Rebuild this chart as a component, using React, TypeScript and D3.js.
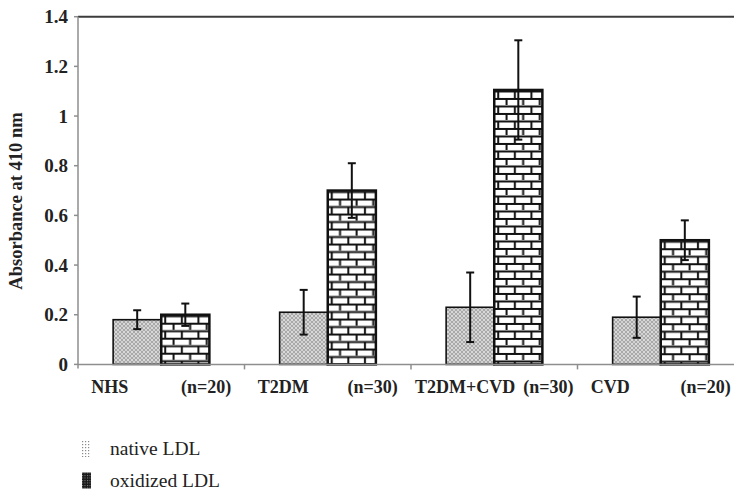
import React from 'react';
import * as d3 from 'd3';

// chart values
const categories = ['NHS', 'T2DM', 'T2DM+CVD', 'CVD'];
const groupSizes = ['(n=20)', '(n=30)', '(n=30)', '(n=20)'];
const nativeMeans = [0.18, 0.21, 0.23, 0.19];
const nativeErrors = [0.038, 0.09, 0.14, 0.083];
const oxidizedMeans = [0.2, 0.7, 1.105, 0.5];
const oxidizedErrors = [0.045, 0.11, 0.2, 0.08];
const yTicks = [0, 0.2, 0.4, 0.6, 0.8, 1, 1.2, 1.4];
const seriesNames = ['native LDL', 'oxidized LDL'];

const W = 734;
const H = 497;
const FONT = '"Liberation Serif", "DejaVu Serif", serif';

const measure = (txt: string, size: number) => {
  const ctx = document.createElement('canvas').getContext('2d');
  if (!ctx) return txt.length * size * 0.5;
  ctx.font = `bold ${size}px "Liberation Serif"`;
  return ctx.measureText(txt).width;
};

const App = () => {
  const left = 78;
  const top = 16.7;
  const bottom = 364.4;

  const y = d3.scaleLinear().domain([0, 1.4]).range([bottom, top]);
  const x = d3.scaleBand().domain(categories).range([left, 744]).padding(0);
  const xs = d3
    .scaleBand()
    .domain(['native', 'oxidized'])
    .range([0, x.bandwidth()])
    .paddingInner(0)
    .paddingOuter(0.73);
  const bw = xs.bandwidth();

  const bars = categories.flatMap((c, i) => [
    { key: 'native', cat: c, i, v: nativeMeans[i], e: nativeErrors[i] },
    { key: 'oxidized', cat: c, i, v: oxidizedMeans[i], e: oxidizedErrors[i] },
  ]);

  return (
    <svg
      width={W}
      height={H}
      style={{ position: 'absolute', left: 0, top: 0, background: '#fff' }}
      fontFamily={FONT}
    >
      <defs>
        <pattern id="cross" patternUnits="userSpaceOnUse" width={4} height={4}>
          <rect width={4} height={4} fill="#a9a9a9" />
          <path d="M0,1 L1,0 M3,0 L4,1 M0,3 L1,4 M3,4 L4,3" stroke="#e6e6e6" strokeWidth={0.8} />
          <circle cx={2} cy={2} r={0.9} fill="#e6e6e6" />
        </pattern>
        <pattern id="dots-light" patternUnits="userSpaceOnUse" width={3} height={3}>
          <rect width={3} height={3} fill="#fff" />
          <rect x={0} y={0} width={1.2} height={1.2} fill="#8a8a8a" />
        </pattern>
        <pattern id="dots-dark" patternUnits="userSpaceOnUse" width={2.5} height={2.5}>
          <rect width={2.5} height={2.5} fill="#1a1a1a" />
          <rect x={0} y={0} width={1} height={1} fill="#8c8c8c" />
        </pattern>
        {bars
          .filter(b => b.key === 'oxidized')
          .map(b => {
            const bx = (x(b.cat) ?? 0) + (xs('oxidized') ?? 0);
            return (
              <pattern
                key={b.cat}
                id={`brick-${b.i}`}
                patternUnits="userSpaceOnUse"
                x={bx}
                y={y(b.v)}
                width={16.6}
                height={15}
              >
                <rect width={16.6} height={15} fill="#fff" />
                <line x1={0} x2={16.6} y1={1.5} y2={1.5} stroke="#111" strokeWidth={2} />
                <line x1={0} x2={16.6} y1={9} y2={9} stroke="#111" strokeWidth={2} />
                <line x1={4} x2={4} y1={1.5} y2={9} stroke="#111" strokeWidth={2} />
                <line x1={12.3} x2={12.3} y1={9} y2={16.5} stroke="#111" strokeWidth={2} />
              </pattern>
            );
          })}
      </defs>

      {/* top frame line */}
      <line x1={left} x2={W} y1={top} y2={top} stroke="#3c3c3c" strokeWidth={2} />

      {/* y axis */}
      <line x1={left} x2={left} y1={top} y2={bottom + 4} stroke="#8e8e8e" strokeWidth={1.5} />
      {yTicks.map(t => (
        <g key={t}>
          <line x1={left - 4} x2={left} y1={y(t)} y2={y(t)} stroke="#8e8e8e" strokeWidth={1.5} />
          <text
            x={left - 10}
            y={y(t)}
            dy="0.35em"
            textAnchor="end"
            fontSize={19}
            fontWeight="bold"
            fill="#222"
          >
            {d3.format('~g')(t)}
          </text>
        </g>
      ))}
      <text
        transform={`translate(22, 201) rotate(-90)`}
        textAnchor="middle"
        fontSize={18.5}
        fontWeight="bold"
        fill="#222"
      >
        Absorbance at 410 nm
      </text>

      {/* bars */}
      {bars.map(b => {
        const bx = (x(b.cat) ?? 0) + (xs(b.key) ?? 0);
        const isOx = b.key === 'oxidized';
        return (
          <rect
            key={b.key + b.cat}
            x={bx}
            y={y(b.v)}
            width={bw}
            height={bottom - y(b.v)}
            fill={isOx ? `url(#brick-${b.i})` : 'url(#cross)'}
            stroke="#111"
            strokeWidth={isOx ? 2.5 : 1.6}
          />
        );
      })}

      {/* error bars */}
      {bars.map(b => {
        const cx = (x(b.cat) ?? 0) + (xs(b.key) ?? 0) + bw / 2;
        const y1 = y(b.v + b.e);
        const y0 = y(b.v - b.e);
        return (
          <g key={'e' + b.key + b.cat} stroke="#111" strokeWidth={2}>
            <line x1={cx} x2={cx} y1={y1} y2={y0} />
            <line x1={cx - 4} x2={cx + 4} y1={y1} y2={y1} />
            <line x1={cx - 4} x2={cx + 4} y1={y0} y2={y0} />
          </g>
        );
      })}

      {/* x axis */}
      <line x1={left} x2={W} y1={bottom} y2={bottom} stroke="#8e8e8e" strokeWidth={1.5} />
      {categories.slice(1).map(c => (
        <line
          key={c}
          x1={x(c) ?? 0}
          x2={x(c) ?? 0}
          y1={bottom}
          y2={bottom + 5}
          stroke="#8e8e8e"
          strokeWidth={1.5}
        />
      ))}
      {categories.map((c, i) => {
        const center = (x(c) ?? 0) + x.bandwidth() / 2;
        const spread = Math.max(140, measure(c, 18) + 8 + measure(groupSizes[i], 18));
        return (
          <g key={c} fontSize={18} fontWeight="bold" fill="#222">
            <text x={center - spread / 2} y={393} textAnchor="start">
              {c}
            </text>
            <text x={center + spread / 2} y={393} textAnchor="end">
              {groupSizes[i]}
            </text>
          </g>
        );
      })}

      {/* legend */}
      {seriesNames.map((s, i) => (
        <g key={s} transform={`translate(82, ${441 + i * 31.5})`}>
          <rect width={9} height={16} fill={i === 0 ? 'url(#dots-light)' : 'url(#dots-dark)'} />
          <text x={28} y={14} fontSize={19.5} fill="#222">
            {s}
          </text>
        </g>
      ))}
    </svg>
  );
};

export default App;
